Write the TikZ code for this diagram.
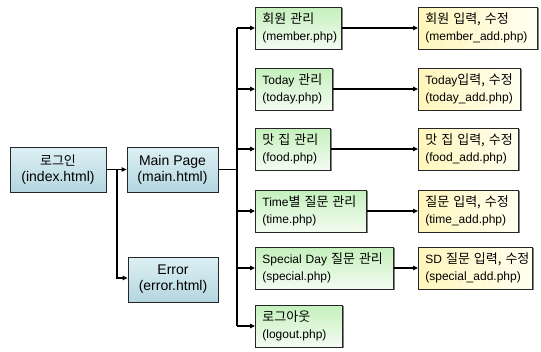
\documentclass[tikz,border=0pt]{standalone}
\usepackage{fontspec}
\setmainfont{Liberation Sans}
\newfontfamily\krfont{Noto Sans CJK KR}
\newcommand{\kr}[1]{{\krfont\fontsize{13}{17}\selectfont #1}}
\newcommand{\twolines}[2]{\mbox{#1}\\\mbox{#2}}
\usetikzlibrary{arrows.meta,shadows}
\definecolor{bluetop}{HTML}{DDF0F4}
\definecolor{bluebot}{HTML}{B4D6E0}
\definecolor{greentop}{HTML}{C4F0BC}
\definecolor{greenbot}{HTML}{F4FCF2}
\definecolor{yellowleft}{HTML}{FFF6BC}
\definecolor{yellowright}{HTML}{FFFFF0}
\begin{document}
\begin{tikzpicture}[x=1pt,y=-1pt,
  box/.style={draw=black!85, line width=0.8pt, minimum height=42pt,
    inner xsep=7pt, inner ysep=2pt,
    drop shadow={shadow xshift=1.2pt, shadow yshift=-1.2pt, fill=black!50, opacity=1}},
  bluebox/.style={box, top color=bluetop, bottom color=bluebot, align=center,
    minimum height=45pt, font=\fontsize{14}{16}\selectfont},
  greenbox/.style={box, top color=greentop, bottom color=greenbot, align=left, anchor=west,
    font=\fontsize{12}{17}\selectfont},
  yellowbox/.style={box, left color=yellowleft, right color=yellowright, align=left, anchor=west,
    font=\fontsize{12}{17}\selectfont},
  link/.style={line width=1.1pt, -{Triangle[length=5pt,width=4.5pt]}},
  plain/.style={line width=1.1pt}]
\useasboundingbox (0,0) rectangle (541,351);

% left column
\node[bluebox, minimum width=96pt] (login) at (58,169.5) {{\krfont\fontsize{13}{16}\selectfont 로그인}\\(index.html)};
\node[bluebox, minimum width=91pt] (main) at (172.5,169.5) {Main Page\\(main.html)};
\node[bluebox, minimum width=90pt] (error) at (173,279.5) {Error\\(error.html)};

% management pages
\node[greenbox, text width=72pt] (member) at (255,28) {\twolines{\kr{회원 관리}}{(member.php)}};
\node[greenbox, text width=63pt] (today) at (255,89) {\twolines{Today \kr{관리}}{(today.php)}};
\node[greenbox, text width=61pt] (food) at (255,149) {\twolines{\kr{맛 집 관리}}{(food.php)}};
\node[greenbox, text width=97pt] (time) at (255,211) {\twolines{Time\kr{별 질문 관리}}{(time.php)}};
\node[greenbox, text width=124pt] (special) at (255,268) {\twolines{Special Day \kr{질문 관리}}{(special.php)}};
\node[greenbox, text width=73pt] (logout) at (255,326) {\twolines{\kr{로그아웃}}{(logout.php)}};

% input / edit pages
\node[yellowbox, text width=105pt] (memberadd) at (418,28) {\twolines{\kr{회원 입력, 수정}}{(member\_add.php)}};
\node[yellowbox, text width=88pt] (todayadd) at (418,89) {\twolines{Today\kr{입력, 수정}}{(today\_add.php)}};
\node[yellowbox, text width=86pt] (foodadd) at (418,149) {\twolines{\kr{맛 집 입력, 수정}}{(food\_add.php)}};
\node[yellowbox, text width=86pt] (timeadd) at (418,211) {\twolines{\kr{질문 입력, 수정}}{(time\_add.php)}};
\node[yellowbox, text width=100pt] (specialadd) at (418,268) {\twolines{SD \kr{질문 입력, 수정}}{(special\_add.php)}};

% login branches
\coordinate (lb) at (117,169.5);
\draw[plain] (login.east) -- (lb);
\draw[link] (lb) -- (main.west);
\draw[link] (lb) |- ([yshift=1.5pt]error.west);

% main page spine
\coordinate (sp) at (237,169.5);
\draw[plain] (main.east) -- (sp);
\draw[plain] (237,28) -- (237,326);
\foreach \n in {member,today,food,time,special,logout}
  \draw[link] (237,0 |- \n.west) -- (\n.west);

% management to input pages
\draw[link] (member) -- (memberadd);
\draw[link] (today) -- (todayadd);
\draw[link] (food) -- (foodadd);
\draw[link, line width=1.7pt] (time) -- (timeadd);
\draw[link] (special) -- (specialadd);
\end{tikzpicture}
\end{document}
